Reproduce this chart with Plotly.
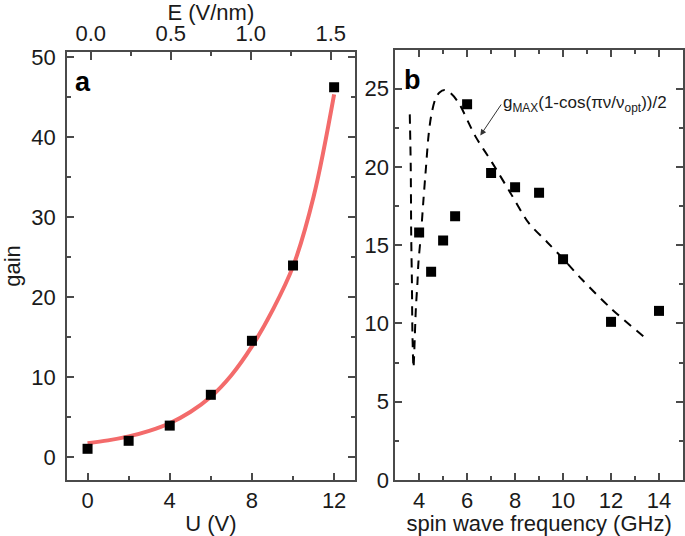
import plotly.graph_objects as go

# ---- panel a data ----
U_pts = [0, 2, 4, 6, 8, 10, 12]
gain_pts = [1.0, 2.0, 3.9, 7.75, 14.5, 23.9, 46.2]
U_fit = [0, 1, 2, 3, 4, 5, 6, 7, 8, 9, 10, 11, 12]
gain_fit = [1.7, 2.05, 2.55, 3.25, 4.2, 5.6, 7.5, 10.2, 13.8, 18.3, 23.8, 32.5, 45.3]
E_ticks = [0.0, 0.5, 1.0, 1.5]

# ---- panel b data ----
f_pts = [4.0, 4.5, 5.0, 5.5, 6.0, 7.0, 8.0, 9.0, 10.0, 12.0, 14.0]
g_pts = [15.8, 13.3, 15.3, 16.85, 24.0, 19.6, 18.7, 18.35, 14.1, 10.1, 10.8]
f_curve = [3.61, 3.65, 3.67, 3.70, 3.72, 3.765, 3.80, 3.862, 3.93, 3.97, 4.08, 4.18,
           4.29, 4.39, 4.50, 4.67, 4.85, 5.06, 5.29, 5.64, 6.34, 7.03, 7.8, 8.56,
           9.33, 10.02, 10.79, 12.04, 13.5]
g_curve = [23.35, 20.05, 15.6, 12.6, 9.4, 7.17, 8.3, 10.9, 12.6, 13.87, 15.78, 17.9,
           20.05, 21.96, 23.24, 24.3, 24.75, 24.9, 24.73, 24.1, 21.96, 20.3, 18.35, 16.43,
           15.2, 14.1, 12.8, 10.9, 8.98]

FONT = "Arial, Liberation Sans, sans-serif"
TXT = "#1a1a1a"
LINE = "#4a4a4a"
FS = 22

fig = go.Figure()
fig.add_trace(go.Scatter(x=U_fit, y=gain_fit, mode="lines",
                         line=dict(color="#f36b6b", width=4, shape="spline"),
                         xaxis="x", yaxis="y", showlegend=False))
fig.add_trace(go.Scatter(x=U_pts, y=gain_pts, mode="markers",
                         marker=dict(symbol="square", size=10, color="black"),
                         xaxis="x", yaxis="y", showlegend=False))
fig.add_trace(go.Scatter(x=f_curve, y=g_curve, mode="lines",
                         line=dict(color="black", width=2, dash="9px,7px", shape="spline", smoothing=0.8),
                         xaxis="x2", yaxis="y2", showlegend=False))
fig.add_trace(go.Scatter(x=f_pts, y=g_pts, mode="markers",
                         marker=dict(symbol="square", size=10, color="black"),
                         xaxis="x2", yaxis="y2", showlegend=False))
# invisible trace to activate the top E axis
fig.add_trace(go.Scatter(x=E_ticks, y=[None]*len(E_ticks), mode="markers",
                         xaxis="x3", yaxis="y", showlegend=False, hoverinfo="skip"))

common = dict(showline=True, linecolor=LINE, linewidth=1.5, ticks="inside",
              tickcolor=LINE, tickwidth=1.5, showgrid=False, zeroline=False,
              automargin=False,
              tickfont=dict(family=FONT, size=FS, color=TXT))
tfont = dict(family=FONT, size=FS, color=TXT)

fig.update_layout(
    width=685, height=536,
    margin=dict(l=67, r=2, t=50, b=56),
    paper_bgcolor="white", plot_bgcolor="white",
    font=dict(family=FONT, color=TXT),
    xaxis=dict(**common, domain=[0, 0.467], range=[-1, 13], tickvals=[0, 4, 8, 12],
               ticklen=7, anchor="y",
               minor=dict(ticks="inside", dtick=2, tick0=0, ticklen=4, tickcolor=LINE, tickwidth=1.5),
               title=dict(text="U (V)", font=tfont, standoff=4)),
    yaxis=dict(**common, domain=[0, 0.9953], range=[-2.9, 50.6], tickvals=[0, 10, 20, 30, 40, 50],
               ticklen=7, mirror="ticks", anchor="x", ticklabelstandoff=5,
               minor=dict(ticks="inside", dtick=5, tick0=0, ticklen=4, tickcolor=LINE, tickwidth=1.5),
               title=dict(text="gain", font=tfont, standoff=8)),
    xaxis3=dict(**common, overlaying="x", side="top", anchor="y", range=[-0.148, 1.649],
                tickvals=E_ticks, tickformat=".1f", ticklen=8,
                minor=dict(ticks="inside", dtick=0.25, tick0=0, ticklen=4, tickcolor=LINE, tickwidth=1.5),
                title=dict(text="E (V/nm)", font=tfont, standoff=2)),
    xaxis2=dict(**common, domain=[0.5327, 1], range=[3, 15], tickvals=[4, 6, 8, 10, 12, 14],
                ticklen=7, mirror="ticks", anchor="y2",
                minor=dict(ticks="inside", dtick=1, tick0=0, ticklen=4, tickcolor=LINE, tickwidth=1.5),
                title=dict(text="spin wave frequency (GHz)", font=tfont, standoff=4)),
    yaxis2=dict(**common, domain=[0, 1], range=[0, 27.46], tickvals=[0, 5, 10, 15, 20, 25],
                ticklen=7, mirror="ticks", anchor="x2",
                minor=dict(ticks="inside", dtick=2.5, tick0=0, ticklen=4, tickcolor=LINE, tickwidth=1.5)),
)

fig.add_annotation(x=0.02, y=0.97, xref="x domain", yref="y domain", text="<b>a</b>",
                   showarrow=False, xanchor="left", yanchor="top",
                   font=dict(family=FONT, size=27, color="black"))
fig.add_annotation(x=0.025, y=0.97, xref="x2 domain", yref="y2 domain", text="<b>b</b>",
                   showarrow=False, xanchor="left", yanchor="top",
                   font=dict(family=FONT, size=27, color="black"))
fig.add_annotation(x=6.55, y=22.0, xref="x2", yref="y2",
                   text="g<sub>MAX</sub>(1-cos(πν/ν<sub>opt</sub>))/2",
                   showarrow=True, arrowhead=2, arrowsize=1.2, arrowwidth=1, arrowcolor="#333",
                   ax=7.42, ay=23.98, axref="x2", ayref="y2",
                   xanchor="left", yanchor="middle",
                   font=dict(family=FONT, size=17, color=TXT))

fig.write_html("out.html", config={"displayModeBar": False},
               post_script="document.body.style.margin='0';document.body.style.overflow='hidden';")
